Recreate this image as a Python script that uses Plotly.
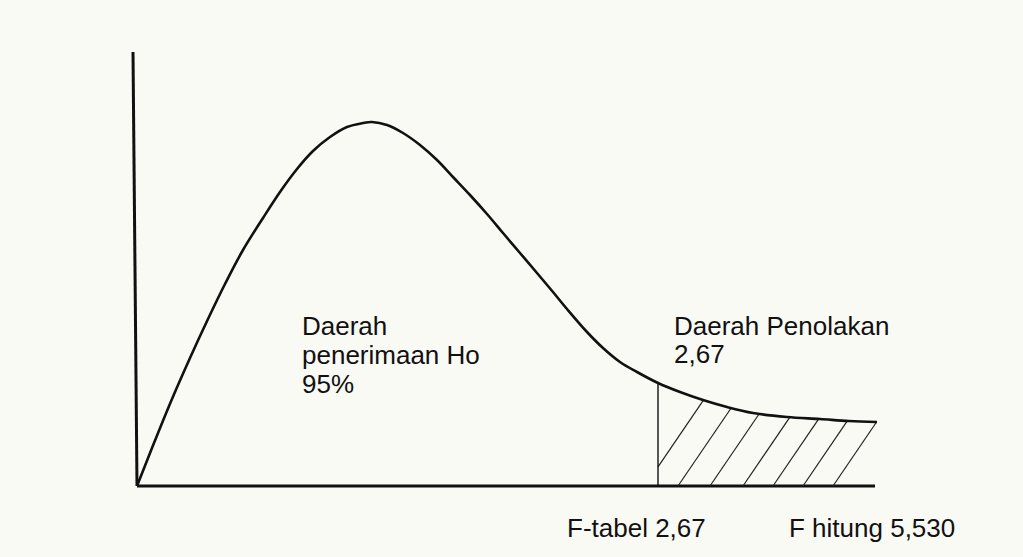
import numpy as np
import plotly.graph_objects as go

# Curve of the F distribution sketch (x, y in picture units, origin at the axes corner)
curve_x = [0, 15, 35, 53, 71, 88, 106, 126, 143, 160, 176, 193, 210, 226, 235,
           250, 266, 283, 300, 316, 333, 350, 366, 383, 400, 416, 430, 450, 466,
           483, 500, 521, 543, 566, 590, 616, 650, 683, 712, 740]
curve_y = [0, 38, 87, 128, 167, 202, 236, 268, 294, 317, 335, 349, 359, 363, 364,
           361, 353, 341, 326, 309, 291, 272, 253, 233, 213, 194, 177, 154, 138,
           124, 114, 103, 94, 86, 79, 73, 69, 67, 65, 64]

# Axes extents
yaxis_line_x = [-4, 0]
yaxis_line_y = [434, 0]
xaxis_line_x = [0, 738]
xaxis_line_y = [0, 0]

# Critical value position (F-tabel 2,67) and end of rejection region
f_tabel_x = 521
region_end_x = 740

# Hatch line start positions along the baseline
hatch_starts = [508, 541, 573, 606, 636, 666, 696]
hatch_slope = 1.47

# Labels
label_accept = ["Daerah", "penerimaan Ho", "95%"]
label_accept_y = [160, 131, 102]
label_accept_x = 163
label_reject = ["Daerah Penolakan", "2,67"]
label_reject_y = [160, 132]
label_reject_x = 535
bottom_labels = ["F-tabel 2,67", "F hitung 5,530"]
bottom_labels_x = [428, 650]
bottom_labels_y = -42

fig = go.Figure()

# axes lines
fig.add_trace(go.Scatter(x=yaxis_line_x, y=yaxis_line_y, mode="lines",
                         line=dict(color="#111111", width=3), hoverinfo="skip"))
fig.add_trace(go.Scatter(x=xaxis_line_x, y=xaxis_line_y, mode="lines",
                         line=dict(color="#111111", width=3), hoverinfo="skip"))

# hatch lines (computed from the curve)
fine_x = np.linspace(f_tabel_x, region_end_x, 2000)
fine_y = np.interp(fine_x, curve_x, curve_y)
hx, hy = [], []
for b in hatch_starts:
    x0 = max(b, f_tabel_x)
    y0 = (x0 - b) * hatch_slope
    line_y = (fine_x - b) * hatch_slope
    idx = np.where((line_y >= fine_y) & (fine_x >= x0))[0]
    if len(idx) == 0:
        x1 = region_end_x
        y1 = (x1 - b) * hatch_slope
    else:
        x1 = fine_x[idx[0]]
        y1 = fine_y[idx[0]]
    hx += [x0, x1, None]
    hy += [y0, y1, None]
fig.add_trace(go.Scatter(x=hx, y=hy, mode="lines",
                         line=dict(color="#222222", width=1.2), hoverinfo="skip"))

# critical value vertical line
f_top = float(np.interp(f_tabel_x, curve_x, curve_y))
fig.add_trace(go.Scatter(x=[f_tabel_x, f_tabel_x], y=[0, f_top], mode="lines",
                         line=dict(color="#111111", width=1.4), hoverinfo="skip"))

# the curve
fig.add_trace(go.Scatter(x=curve_x, y=curve_y, mode="lines",
                         line=dict(color="#111111", width=2.6, shape="spline", smoothing=1.0),
                         hoverinfo="skip"))

font = dict(family="Liberation Sans, Arial, sans-serif", size=26, color="#111111")
for t, yy in zip(label_accept, label_accept_y):
    fig.add_annotation(x=label_accept_x, y=yy, text=t, showarrow=False,
                       xanchor="left", yanchor="middle", font=font)
for t, yy in zip(label_reject, label_reject_y):
    fig.add_annotation(x=label_reject_x, y=yy, text=t, showarrow=False,
                       xanchor="left", yanchor="middle", font=font)
for t, xx in zip(bottom_labels, bottom_labels_x):
    fig.add_annotation(x=xx, y=bottom_labels_y, text=t, showarrow=False,
                       xanchor="left", yanchor="middle", font=font)

bg = "#f9faf4"
fig.update_layout(
    width=1023, height=557,
    margin=dict(l=0, r=0, t=0, b=0),
    paper_bgcolor=bg,
    plot_bgcolor=bg,
    showlegend=False,
    hovermode=False,
    xaxis=dict(range=[-137, 886], visible=False, fixedrange=True),
    yaxis=dict(range=[-71, 486], visible=False, fixedrange=True),
)

fig.write_html(
    "out.html",
    config={"displayModeBar": False, "staticPlot": True},
    post_script="document.body.style.margin='0';document.body.style.background='%s';" % bg,
)
